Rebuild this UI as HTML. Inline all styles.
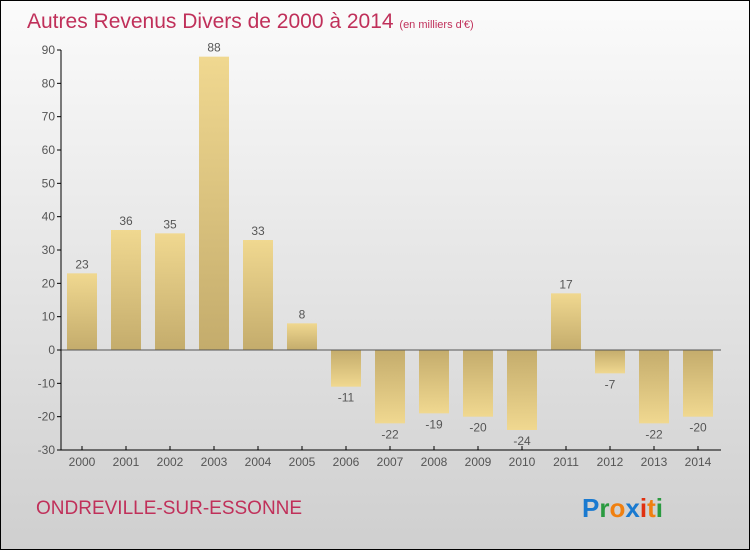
<!DOCTYPE html>
<html><head><meta charset="utf-8"><style>
body{margin:0;width:750px;height:550px;overflow:hidden;font-family:"Liberation Sans",sans-serif}
svg{display:block}
</style></head><body>
<svg width="750" height="550" xmlns="http://www.w3.org/2000/svg">
<defs>
<linearGradient id="bg" x1="0" y1="0" x2="0" y2="1"><stop offset="0" stop-color="#fbfbfb"/><stop offset="1" stop-color="#cfcfcf"/></linearGradient>
<linearGradient id="bp" x1="0" y1="0" x2="0" y2="1"><stop offset="0" stop-color="#f0d890"/><stop offset="1" stop-color="#c4ac6c"/></linearGradient>
<linearGradient id="bn" x1="0" y1="0" x2="0" y2="1"><stop offset="0" stop-color="#c4ac6c"/><stop offset="1" stop-color="#f0d890"/></linearGradient>
</defs>
<rect x="0.5" y="0.5" width="749" height="549" fill="url(#bg)" stroke="#000"/>
<text x="27" y="28" font-size="21" fill="#c0305a">Autres Revenus Divers de 2000 à 2014 <tspan font-size="11">(en milliers d'€)</tspan></text>
<g id="plot"></g>
<text x="36" y="514" font-size="19" fill="#c0305a">ONDREVILLE-SUR-ESSONNE</text>
<text x="582" y="517" font-size="26" font-weight="bold"><tspan fill="#1a7ad0">P</tspan><tspan fill="#2a9a40">r</tspan><tspan fill="#f08010">o</tspan><tspan fill="#1a7ad0">x</tspan><tspan fill="#e03010">i</tspan><tspan fill="#f08010">t</tspan><tspan fill="#2a9a40">i</tspan></text>
</svg>
<script>
const categories=["2000","2001","2002","2003","2004","2005","2006","2007","2008","2009","2010","2011","2012","2013","2014"];
const values=[23,36,35,88,33,8,-11,-22,-19,-20,-24,17,-7,-22,-20];
const yTicks=[90,80,70,60,50,40,30,20,10,0,-10,-20,-30];
const NS="http://www.w3.org/2000/svg";
const g=document.getElementById('plot');
const y=v=>350-v*(400/120);
const x=i=>82+i*44;
function mk(t,a){const e=document.createElementNS(NS,t);for(const k in a)e.setAttribute(k,a[k]);g.appendChild(e);return e;}
yTicks.forEach(t=>{
  const l=mk('line',{x1:57,x2:61,y1:y(t),y2:y(t),stroke:'#000'});
  
  
  const tx=mk('text',{x:55,y:y(t)+4,'font-size':12,fill:'#555','text-anchor':'end'});
  tx.textContent=t;
  
  
});
categories.forEach((c,i)=>{
  const v=values[i];
  const top=v>=0?y(v):y(0),h=Math.abs(y(v)-y(0));
  const r=mk('rect',{x:x(i)-15,y:top,width:30,height:h,fill:v>=0?'url(#bp)':'url(#bn)'});
  
  
  const lt=mk('text',{x:x(i),y:v>=0?y(v)-5:y(v)+15,'font-size':12,fill:'#555','text-anchor':'middle'});
  lt.textContent=v;
  
  
  const tk=mk('line',{x1:x(i),x2:x(i),y1:446,y2:450,stroke:'#000'});
  
  
  const xl=mk('text',{x:x(i),y:466,'font-size':12,fill:'#555','text-anchor':'middle'});
  xl.textContent=c;
  
  
});
const z=mk('line',{x1:61,x2:721,y1:y(0),y2:y(0),stroke:'#555'});


const ya=mk('line',{x1:61,x2:61,y1:50,y2:450,stroke:'#000'});


const xa=mk('line',{x1:61,x2:721,y1:450,y2:450,stroke:'#000'});


</script>
</body></html>
